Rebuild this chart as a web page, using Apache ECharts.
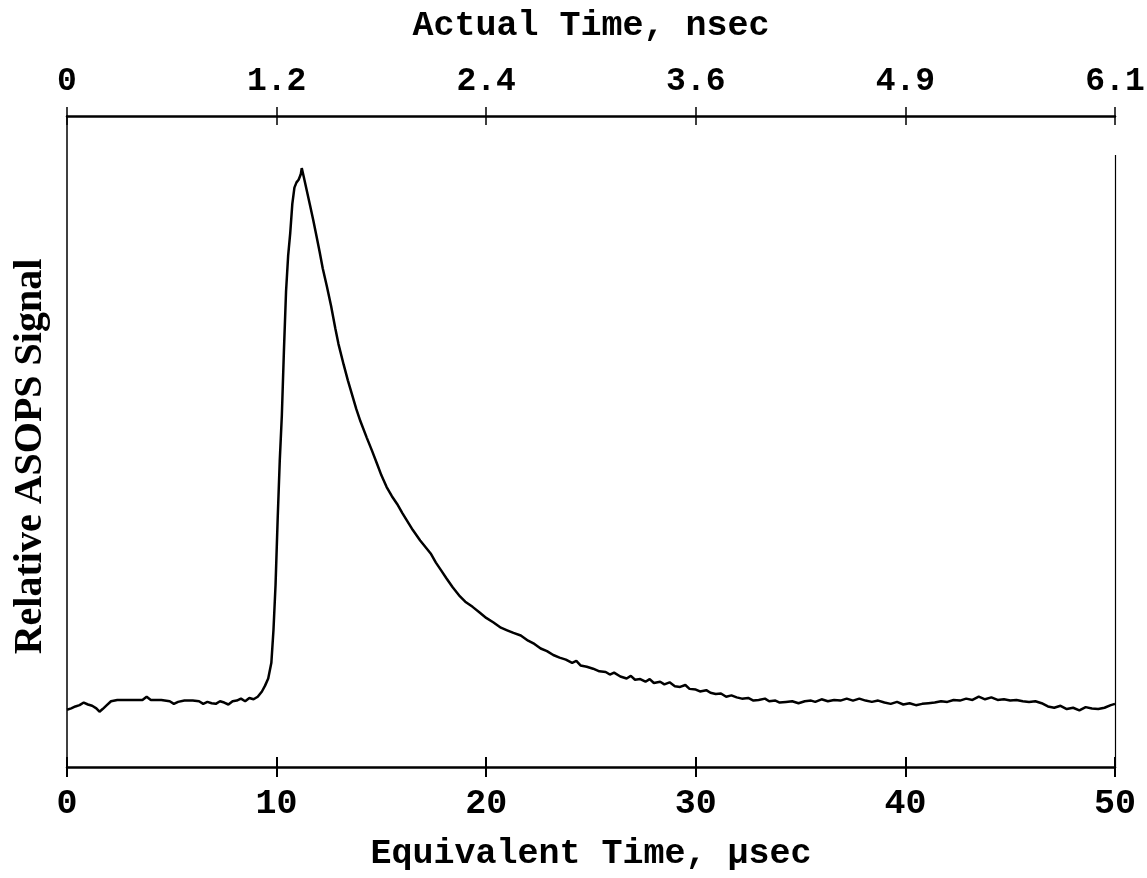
<!DOCTYPE html>
<html>
<head>
<meta charset="utf-8">
<script src="https://cdn.jsdelivr.net/npm/echarts@6/dist/echarts.min.js"></script>
<style>
  html, body { margin: 0; padding: 0; background: #fff; }
  #chart { width: 1147px; height: 878px; }
</style>
</head>
<body>
<div id="chart"></div>
<script>
// equivalent time, µsec
const time = [
  0.0, 0.2, 0.4, 0.6, 0.8, 1.0, 1.2, 1.4, 1.55, 1.7, 1.9, 2.1, 2.4, 2.8, 3.2, 3.6, 3.8, 4.0, 4.5, 4.9,
  5.1, 5.3, 5.6, 6.0, 6.3, 6.5, 6.7, 6.9, 7.1, 7.3, 7.5, 7.7, 7.9, 8.1, 8.3, 8.5, 8.7, 8.9, 9.1, 9.3,
  9.45, 9.6, 9.75, 9.85, 9.95, 10.05, 10.15, 10.25, 10.35, 10.45, 10.55, 10.65, 10.75, 10.85, 10.95,
  11.05, 11.15, 11.2, 11.3, 11.45, 11.6, 11.75, 11.9, 12.05, 12.2, 12.4, 12.6, 12.8, 12.95, 13.2,
  13.4, 13.6, 13.8, 14.0, 14.3, 14.55, 14.8, 15.0, 15.25, 15.5, 15.75, 16.0, 16.25, 16.5, 16.85,
  17.1, 17.35, 17.6, 17.85, 18.1, 18.4, 18.75, 19.0, 19.35, 19.7, 20.0, 20.35, 20.7, 21.0, 21.3,
  21.65, 22.0, 22.3, 22.6, 22.9, 23.2, 23.5, 23.8, 24.1, 24.3, 24.5, 24.8, 25.1, 25.4, 25.7, 25.9,
  26.1, 26.4, 26.7, 26.9, 27.1, 27.35, 27.6, 27.8, 28.0, 28.3, 28.5, 28.75, 29.0, 29.25, 29.5, 29.7,
  30.0, 30.2, 30.5, 30.7, 30.95, 31.2, 31.45, 31.7, 31.95, 32.2, 32.5, 32.75, 33.0, 33.3, 33.5, 33.8,
  34.0, 34.3, 34.6, 34.9, 35.2, 35.5, 35.7, 36.0, 36.3, 36.6, 36.9, 37.2, 37.5, 37.8, 38.1, 38.4,
  38.7, 39.0, 39.3, 39.6, 39.9, 40.2, 40.5, 40.8, 41.1, 41.4, 41.7, 42.0, 42.3, 42.6, 42.9, 43.2,
  43.5, 43.8, 44.1, 44.4, 44.7, 45.0, 45.3, 45.6, 45.9, 46.2, 46.5, 46.8, 47.1, 47.4, 47.7, 48.0,
  48.3, 48.6, 48.9, 49.2, 49.5, 49.8, 50.0
]

// relative ASOPS signal (arbitrary units, 0-100 = plot height)
const signal = [
  8.8, 9.0, 9.3, 9.5, 9.9, 9.6, 9.4, 9.0, 8.5, 8.9, 9.5, 10.1, 10.3, 10.3, 10.3, 10.3, 10.8, 10.3, 10.3, 10.1,
  9.7, 10.0, 10.2, 10.2, 10.1, 9.7, 10.0, 9.8, 9.7, 10.1, 9.9, 9.6, 10.1, 10.2, 10.5, 10.1, 10.6, 10.4, 10.8, 11.6,
  12.5, 13.6, 16.0, 21.0, 28.0, 38.0, 47.0, 54.0, 64.0, 73.0, 78.5, 82.0, 86.5, 89.0, 89.8,
  90.2, 91.0, 92.0, 90.6, 88.4, 86.2, 84.0, 81.6, 79.2, 76.6, 73.8, 70.8, 67.4, 65.0, 61.8,
  59.4, 57.2, 55.0, 53.1, 50.6, 48.6, 46.5, 44.8, 43.0, 41.6, 40.4, 39.0, 37.7, 36.4, 34.8,
  33.8, 32.8, 31.4, 30.2, 29.0, 27.6, 26.2, 25.4, 24.6, 23.7, 22.9, 22.2, 21.4, 21.0, 20.6,
  20.2, 19.4, 18.9, 18.2, 17.8, 17.2, 16.8, 16.5, 16.0, 16.3, 15.6, 15.4, 15.1, 14.7, 14.6, 14.2,
  14.5, 13.9, 13.6, 14.0, 13.4, 13.5, 13.1, 13.5, 12.9, 13.1, 12.7, 13.0, 12.4, 12.3, 12.6, 12.0,
  11.9, 11.6, 11.8, 11.4, 11.2, 11.3, 10.8, 11.0, 10.7, 10.5, 10.6, 10.2, 10.3, 10.5, 10.1, 10.2,
  9.9, 10.0, 10.1, 9.8, 10.1, 10.2, 10.0, 10.4, 10.1, 10.3, 10.2, 10.5, 10.2, 10.5, 10.2, 10.0,
  10.2, 9.9, 9.7, 10.0, 9.6, 9.8, 9.5, 9.7, 9.8, 9.9, 10.1, 10.0, 10.3, 10.2, 10.5, 10.3,
  10.8, 10.4, 10.7, 10.3, 10.4, 10.2, 10.3, 10.1, 10.0, 10.1, 9.8, 9.3, 9.1, 9.4, 8.9, 9.1,
  8.7, 9.2, 9.0, 8.9, 9.1, 9.5, 9.7
]

// top axis labels (actual time, nsec) at equivalent 0,10,...,50
const actualLabels = ['0', '1.2', '2.4', '3.6', '4.9', '6.1']

const chart = echarts.init(document.getElementById('chart'))

const monoFont = '"Liberation Mono", "DejaVu Sans Mono", monospace'
const serifFont = '"Liberation Serif", serif'

const option = {
  animation: false,
  backgroundColor: '#fff',
  grid: {
    left: 67,
    right: 32,
    top: 116,
    bottom: 111,
    outerBoundsMode: 'none',
    containLabel: false,
  },
  xAxis: [
    {
      // bottom axis, labels + outward ticks
      type: 'value',
      position: 'bottom',
      min: 0,
      max: 50,
      interval: 10,
      name: 'Equivalent Time, μsec',
      nameLocation: 'middle',
      nameGap: 70,
      nameTextStyle: { fontFamily: monoFont, fontSize: 35, fontWeight: 'bold', color: '#000' },
      axisLine: { lineStyle: { color: '#000', width: 2.5 } },
      axisTick: { length: 10, lineStyle: { color: '#000', width: 2 } },
      axisLabel: { fontFamily: monoFont, fontSize: 35, fontWeight: 'bold', color: '#000', margin: 20 },
      splitLine: { show: false },
    },
    {
      // bottom axis inward ticks
      type: 'value',
      position: 'bottom',
      offset: 0,
      min: 0,
      max: 50,
      interval: 10,
      axisLine: { show: false },
      axisTick: { inside: true, length: 10, lineStyle: { color: '#000', width: 2 } },
      axisLabel: { show: false },
      splitLine: { show: false },
    },
    {
      // top axis: actual time
      type: 'value',
      position: 'top',
      min: 0,
      max: 50,
      interval: 10,
      name: 'Actual Time, nsec',
      nameLocation: 'middle',
      nameGap: 72,
      nameTextStyle: { fontFamily: monoFont, fontSize: 35, fontWeight: 'bold', color: '#000' },
      axisLine: { lineStyle: { color: '#000', width: 2.5 } },
      axisTick: { length: 9, lineStyle: { color: '#000', width: 1.5 } },
      axisLabel: {
        fontFamily: monoFont,
        fontSize: 33,
        fontWeight: 'bold',
        color: '#000',
        margin: 18,
        formatter: (v) => actualLabels[Math.round(v / 10)],
      },
      splitLine: { show: false },
    },
    {
      type: 'value',
      position: 'top',
      offset: 0,
      min: 0,
      max: 50,
      interval: 10,
      axisLine: { show: false },
      axisTick: { inside: true, length: 9, lineStyle: { color: '#000', width: 1.5 } },
      axisLabel: { show: false },
      splitLine: { show: false },
    },
  ],
  yAxis: [
    {
      type: 'value',
      position: 'left',
      min: 0,
      max: 100,
      name: 'Relative ASOPS Signal',
      nameLocation: 'middle',
      nameGap: 16,
      nameTextStyle: {
        fontFamily: serifFont,
        fontSize: 40,
        fontWeight: 'bold',
        color: '#000',
        padding: [0, 30, 0, 0],
      },
      axisLine: { show: true, lineStyle: { color: '#000', width: 1.5 } },
      axisTick: { show: false },
      axisLabel: { show: false },
      splitLine: { show: false },
    },
  ],
  series: [
    {
      type: 'line',
      xAxisIndex: 0,
      yAxisIndex: 0,
      data: time.map((t, i) => [t, signal[i]]),
      showSymbol: false,
      smooth: false,
      lineStyle: { color: '#000', width: 2.5 },
      markLine: {
        silent: true,
        symbol: 'none',
        label: { show: false },
        lineStyle: { color: '#000', width: 1.2, type: 'solid' },
        data: [[{ coord: [50, 0] }, { coord: [50, 94] }]],
      },
    },
  ],
}

chart.setOption(option)
</script>
</body>
</html>
